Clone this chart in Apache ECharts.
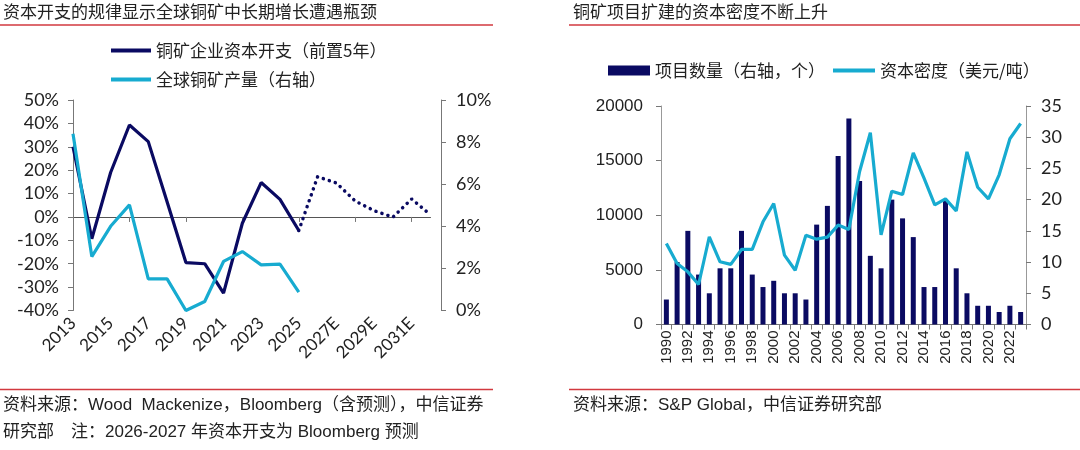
<!DOCTYPE html>
<html>
<head>
<meta charset="utf-8">
<script src="https://cdn.jsdelivr.net/npm/echarts@6/dist/echarts.min.js"></script>
<style>
  html, body { margin: 0; padding: 0; background: #fff; }
  #main { width: 1080px; height: 450px; }
</style>
</head>
<body>
<div id="main"></div>
<script>
// 左图：资本开支 vs 铜矿产量
var years1 = ['2013', '2014', '2015', '2016', '2017', '2018', '2019', '2020', '2021', '2022', '2023', '2024', '2025',
    '2026E', '2027E', '2028E', '2029E', '2030E', '2031E', '2032E'];
var capex = [30, -9.3, 19, 39.3, 32.2, 6.5, -19.5, -20, -32.6, -2.7, 14.7, 7.5, -5.8];
var capexForecast = [null, null, null, null, null, null, null, null, null, null, null, null, -5.8,
    17.2, 14.5, 6.8, 2.7, -0.1, 7.7, 0.9];
var copperOutput = [8.4, 2.56, 4.0, 5.02, 1.5, 1.5, 0.0, 0.43, 2.33, 2.8, 2.17, 2.2, 0.87];
var leftTicks1 = [-40, 50, 10];   // min, max, interval
var rightTicks1 = [0, 10, 2];

// 右图：项目数量 与 资本密度
var years2 = [];
for (var y = 1990; y <= 2023; y++) {
    years2.push(String(y));
}
var projectCount = [4, 10, 15, 8, 5, 9, 9, 15, 8, 6, 7, 5, 5, 4, 16, 19, 27, 33, 23, 11, 9, 20, 17, 14, 6, 6, 20, 9, 5, 3, 3, 2, 3, 2];
var capIntensity = [7420, 5590, 4820, 3660, 8030, 5740, 5500, 6870, 6870, 9400, 11080, 6350, 4970, 8180, 7810, 8000,
    9100, 8700, 14000, 17550, 8200, 12200, 11900, 15700, 13400, 10950, 11500, 10400, 15800, 12560, 11500, 13700, 17000, 18400];
var leftTicks2 = [0, 20000, 5000];
var rightTicks2 = [0, 35, 5];

var NAVY = '#0a0a62';
var CYAN = '#17abd0';
var RED = '#d2393f';
var CJK = '"Noto Sans CJK SC", sans-serif';
var LATO = 'Lato, "Noto Sans CJK SC", sans-serif';
var ARIAL = '"Liberation Sans", Arial, "Noto Sans CJK SC", sans-serif';

var myChart = echarts.init(document.getElementById('main'), null, { renderer: 'canvas' });

function pct(v) {
    return v + '%';
}

var option = {
    backgroundColor: '#fff',
    animation: false,
    legend: [{
        orient: 'vertical',
        left: 106,
        top: 37,
        itemWidth: 40,
        itemHeight: 4,
        itemGap: 12,
        icon: 'rect',
        textStyle: { fontFamily: CJK, fontSize: 17, color: '#222' },
        data: ['铜矿企业资本开支（前置5年）', '全球铜矿产量（右轴）']
    }, {
        orient: 'horizontal',
        left: 603,
        top: 57,
        itemGap: 8,
        textStyle: { fontFamily: CJK, fontSize: 17, color: '#222' },
        data: [
            { name: '项目数量（右轴，个）', icon: 'rect', itemStyle: { color: NAVY } },
            { name: '资本密度（美元/吨）', icon: 'path://M0,0H44V4H0Z' }
        ],
        itemWidth: 42,
        itemHeight: 10
    }],
    grid: [
        { left: 73, top: 100, width: 357.5, height: 210.5 },
        { left: 661, top: 106, width: 365, height: 218.5 }
    ],
    xAxis: [{
        // 底部标签
        gridIndex: 0,
        type: 'category',
        data: years1,
        boundaryGap: false,
        axisLine: { show: false, onZero: false },
        axisTick: { show: false },
        axisLabel: {
            interval: 1,
            rotate: 45,
            margin: 10,
            fontFamily: LATO,
            fontSize: 17,
            color: '#222'
        }
    }, {
        // 零线
        gridIndex: 0,
        type: 'category',
        data: years1,
        boundaryGap: false,
        position: 'bottom',
        axisLine: { show: true, onZero: true, onZeroAxisIndex: 0, lineStyle: { color: '#555', width: 1 } },
        axisTick: { show: true, length: 5, lineStyle: { color: '#777' } },
        axisLabel: { show: false }
    }, {
        gridIndex: 1,
        type: 'category',
        data: years2,
        boundaryGap: true,
        axisLine: { lineStyle: { color: '#777' } },
        axisTick: { show: true, interval: 0, length: 5, lineStyle: { color: '#777' } },
        axisLabel: {
            interval: 1,
            rotate: 90,
            margin: 6,
            fontFamily: ARIAL,
            fontSize: 15,
            color: '#222'
        }
    }],
    yAxis: [{
        gridIndex: 0,
        type: 'value',
        min: leftTicks1[0],
        max: leftTicks1[1],
        interval: leftTicks1[2],
        splitLine: { show: false },
        axisLine: { show: true, lineStyle: { color: '#777' } },
        axisTick: { show: true, length: 5, lineStyle: { color: '#777' } },
        axisLabel: { formatter: pct, margin: 14, fontFamily: LATO, fontSize: 18, color: '#222' }
    }, {
        gridIndex: 0,
        type: 'value',
        position: 'right',
        offset: 10.5,
        min: rightTicks1[0],
        max: rightTicks1[1],
        interval: rightTicks1[2],
        splitLine: { show: false },
        axisLine: { show: true, lineStyle: { color: '#777' } },
        axisTick: { show: true, length: 5, lineStyle: { color: '#777' } },
        axisLabel: { formatter: pct, margin: 15, fontFamily: LATO, fontSize: 18, color: '#222' }
    }, {
        gridIndex: 1,
        type: 'value',
        min: leftTicks2[0],
        max: leftTicks2[1],
        interval: leftTicks2[2],
        splitLine: { show: false },
        axisLine: { show: true, lineStyle: { color: '#999' } },
        axisTick: { show: true, length: 5, lineStyle: { color: '#777' } },
        axisLabel: {
            formatter: function (v) { return String(v); },
            margin: 18, fontFamily: ARIAL, fontSize: 17, color: '#222'
        }
    }, {
        gridIndex: 1,
        type: 'value',
        position: 'right',
        min: rightTicks2[0],
        max: rightTicks2[1],
        interval: rightTicks2[2],
        splitLine: { show: false },
        axisLine: { show: true, lineStyle: { color: '#999' } },
        axisTick: { show: true, length: 5, lineStyle: { color: '#777' } },
        axisLabel: { margin: 15, fontFamily: LATO, fontSize: 18, color: '#222' }
    }],
    series: [{
        name: '铜矿企业资本开支（前置5年）',
        type: 'line',
        xAxisIndex: 0,
        yAxisIndex: 0,
        data: capex,
        color: NAVY,
        symbol: 'none',
        lineStyle: { width: 3.2, color: NAVY }
    }, {
        name: '资本开支预测',
        type: 'line',
        xAxisIndex: 0,
        yAxisIndex: 0,
        data: capexForecast,
        symbol: 'none',
        lineStyle: { width: 3.5, color: NAVY, type: [0.1, 6.2], cap: 'round' }
    }, {
        name: '全球铜矿产量（右轴）',
        type: 'line',
        xAxisIndex: 0,
        yAxisIndex: 1,
        data: copperOutput,
        color: CYAN,
        symbol: 'none',
        lineStyle: { width: 3.2, color: CYAN }
    }, {
        name: '项目数量（右轴，个）',
        type: 'bar',
        xAxisIndex: 2,
        yAxisIndex: 3,
        data: projectCount,
        barWidth: 5,
        itemStyle: { color: NAVY }
    }, {
        name: '资本密度（美元/吨）',
        type: 'line',
        xAxisIndex: 2,
        yAxisIndex: 2,
        data: capIntensity,
        color: CYAN,
        symbol: 'none',
        lineStyle: { width: 3.2, color: CYAN }
    }],
    graphic: [
        { type: 'text', left: 3, top: 3, style: { text: '资本开支的规律显示全球铜矿中长期增长遭遇瓶颈', font: '17px ' + CJK, fill: '#222' } },
        { type: 'text', left: 573, top: 3, style: { text: '铜矿项目扩建的资本密度不断上升', font: '17px ' + CJK, fill: '#222' } },
        { type: 'line', shape: { x1: 0, y1: 25, x2: 493, y2: 25 }, style: { stroke: RED, lineWidth: 1.5 } },
        { type: 'line', shape: { x1: 569, y1: 25, x2: 1080, y2: 25 }, style: { stroke: RED, lineWidth: 1.5 } },
        { type: 'line', shape: { x1: 0, y1: 389.5, x2: 493, y2: 389.5 }, style: { stroke: RED, lineWidth: 1.5 } },
        { type: 'line', shape: { x1: 569, y1: 389.5, x2: 1080, y2: 389.5 }, style: { stroke: RED, lineWidth: 1.5 } },
        { type: 'text', left: 3, top: 397, style: { text: '资料来源：Wood  Mackenize，Bloomberg（含预测），中信证券', font: '17px ' + ARIAL, fill: '#222' } },
        { type: 'text', left: 3, top: 424, style: { text: '研究部　注：2026-2027 年资本开支为 Bloomberg 预测', font: '17px ' + ARIAL, fill: '#222' } },
        { type: 'text', left: 573, top: 397, style: { text: '资料来源：S&P Global，中信证券研究部', font: '17px ' + ARIAL, fill: '#222' } }
    ]
};

myChart.setOption(option);
</script>
</body>
</html>
